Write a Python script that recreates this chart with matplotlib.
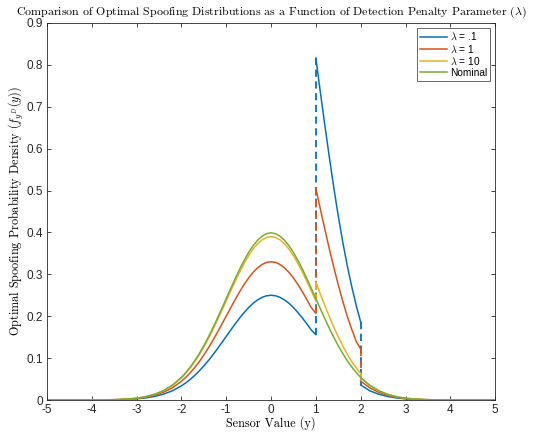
import numpy as np
import matplotlib
matplotlib.use('Agg')
import matplotlib.pyplot as plt

# sensor value grids (left of 1, between 1 and 2, right of 2)
x_left = [-5.0, -4.8, -4.6, -4.4, -4.2, -4.0, -3.8, -3.6, -3.4, -3.2, -3.0, -2.8, -2.6, -2.4, -2.2,
          -2.0, -1.9, -1.8, -1.7, -1.6, -1.5, -1.4, -1.3, -1.2, -1.1, -1.0, -0.9, -0.8, -0.7, -0.6, -0.5,
          -0.4, -0.3, -0.2, -0.1, 0.0, 0.1, 0.2, 0.3, 0.4, 0.5, 0.6, 0.7, 0.8, 0.9, 1.0]
x_mid = [1.0, 1.1, 1.2, 1.3, 1.4, 1.5, 1.6, 1.7, 1.8, 1.9, 2.0]
x_right = [2.0, 2.2, 2.4, 2.6, 2.8, 3.0, 3.2, 3.4, 3.6, 3.8, 4.0, 4.2, 4.4, 4.6, 4.8, 5.0]

# lambda = .1
l01_left = [0, 0, 0, 0, 0.0001, 0.0001, 0.0002, 0.0004, 0.0008, 0.0015, 0.0028, 0.005, 0.0085, 0.014, 0.0222,
            0.0338, 0.0411, 0.0495, 0.0589, 0.0695, 0.0812, 0.0938, 0.1074, 0.1217, 0.1366, 0.1517, 0.1668,
            0.1816, 0.1957, 0.2088, 0.2207, 0.2308, 0.2390, 0.2450, 0.2488, 0.250, 0.2488, 0.2450, 0.2390,
            0.2308, 0.2207, 0.2088, 0.1957, 0.1816, 0.1668, 0.156]
l01_mid = [0.816, 0.735, 0.656, 0.580, 0.507, 0.439, 0.377, 0.321, 0.271, 0.226, 0.186]
l01_right = [0.036, 0.0222, 0.014, 0.0085, 0.005, 0.0028, 0.0015, 0.0008, 0.0004, 0.0002, 0.0001, 0.0001, 0, 0, 0, 0]

# lambda = 1
l1_left = [0, 0, 0, 0, 0.0001, 0.0001, 0.0002, 0.0005, 0.001, 0.002, 0.0036, 0.0065, 0.0112, 0.0185, 0.0293,
           0.0447, 0.0543, 0.0654, 0.0778, 0.0917, 0.1071, 0.1238, 0.1418, 0.1607, 0.1803, 0.2002, 0.2201,
           0.2397, 0.2584, 0.2757, 0.2913, 0.3047, 0.3155, 0.3235, 0.3284, 0.330, 0.3284, 0.3235, 0.3155,
           0.3047, 0.2913, 0.2757, 0.2584, 0.2397, 0.2201, 0.207]
l1_mid = [0.505, 0.456, 0.408, 0.361, 0.317, 0.275, 0.236, 0.200, 0.169, 0.140, 0.122]
l1_right = [0.045, 0.0293, 0.0185, 0.0112, 0.0065, 0.0036, 0.002, 0.001, 0.0005, 0.0002, 0.0001, 0.0001, 0, 0, 0, 0]

# lambda = 10
l10_left = [0, 0, 0, 0, 0.0001, 0.0001, 0.0003, 0.0006, 0.0012, 0.0023, 0.0043, 0.0077, 0.0133, 0.0219, 0.0347,
            0.0528, 0.0641, 0.0772, 0.0919, 0.1084, 0.1266, 0.1464, 0.1676, 0.1899, 0.2130, 0.2366, 0.2602,
            0.2832, 0.3053, 0.3258, 0.3442, 0.3601, 0.3729, 0.3823, 0.3881, 0.390, 0.3881, 0.3823, 0.3729,
            0.3601, 0.3442, 0.3258, 0.3053, 0.2832, 0.2602, 0.2366]
l10_mid = [0.282, 0.253, 0.226, 0.199, 0.174, 0.151, 0.129, 0.110, 0.092, 0.077, 0.063]
l10_right = [0.0528, 0.0347, 0.0219, 0.0133, 0.0077, 0.0043, 0.0023, 0.0012, 0.0006, 0.0003, 0.0001, 0.0001, 0, 0, 0, 0]

# nominal density
nom_left = [0, 0, 0, 0, 0.0001, 0.0001, 0.0003, 0.0006, 0.0012, 0.0024, 0.0044, 0.0079, 0.0136, 0.0224, 0.0355,
            0.0540, 0.0656, 0.0790, 0.0940, 0.1109, 0.1295, 0.1497, 0.1714, 0.1942, 0.2179, 0.2420, 0.2661,
            0.2897, 0.3123, 0.3332, 0.3521, 0.3683, 0.3814, 0.3910, 0.3970, 0.3989, 0.3970, 0.3910, 0.3814,
            0.3683, 0.3521, 0.3332, 0.3123, 0.2897, 0.2661, 0.2420]
nom_mid = [0.2420, 0.2179, 0.1942, 0.1714, 0.1497, 0.1295, 0.1109, 0.0940, 0.0790, 0.0656, 0.0540]
nom_right = [0.0540, 0.0355, 0.0224, 0.0136, 0.0079, 0.0044, 0.0024, 0.0012, 0.0006, 0.0003, 0.0001, 0.0001, 0, 0, 0, 0]

labels = [r'$\lambda$ = .1', r'$\lambda$ = 1', r'$\lambda$ = 10', 'Nominal']
colors = ['#0072BD', '#D95319', '#EDB120', '#77AC30']

plt.rcParams['font.family'] = ['Liberation Sans', 'DejaVu Sans']
plt.rcParams['mathtext.fontset'] = 'cm'

fig = plt.figure(figsize=(5.33, 4.32), dpi=100)
ax = fig.add_axes([0.088, 0.074, 0.841, 0.873])

series = [(l01_left, l01_mid, l01_right), (l1_left, l1_mid, l1_right), (l10_left, l10_mid, l10_right)]
lw = 1.1
for (lft, mid, rgt), c, lab in zip(series, colors, labels):
    ax.plot(x_left, lft, color=c, lw=lw, label=lab)
    ax.plot(x_mid, mid, color=c, lw=lw)
    ax.plot(x_right, rgt, color=c, lw=lw)
    # jumps at the region edges
    ax.plot([x_left[-1], x_mid[0]], [lft[-1], mid[0]], color=c, lw=lw + 0.2, ls=(0, (4, 2.5)))
    ax.plot([x_mid[-1], x_right[0]], [mid[-1], rgt[0]], color=c, lw=lw + 0.2, ls=(0, (4, 2.5)))

ax.plot(x_left + x_mid[1:] + x_right[1:], nom_left + nom_mid[1:] + nom_right[1:],
        color=colors[3], lw=lw, label=labels[3])

ax.set_xlim(-5, 5)
ax.set_ylim(0, 0.9)
ax.set_xticks(np.arange(-5, 6, 1))
ax.set_yticks(np.arange(0, 0.91, 0.1))
ax.set_xticklabels([str(v) for v in range(-5, 6)])
ax.set_yticklabels(['0', '0.1', '0.2', '0.3', '0.4', '0.5', '0.6', '0.7', '0.8', '0.9'])
ax.tick_params(direction='in', top=True, right=True, labelsize=8.5, colors='#262626', length=3, width=0.6)
ax.tick_params(axis='x', pad=3)
ax.tick_params(axis='y', pad=3)
for s in ax.spines.values():
    s.set_color('#262626')
    s.set_linewidth(0.6)

ax.set_title(r'Comparison of Optimal Spoofing Distributions as a Function of Detection Penalty Parameter ($\lambda$)',
             family='cmr10', fontsize=8.6, pad=6)
ax.set_xlabel('Sensor Value (y)', family='cmr10', fontsize=8.8, labelpad=0)
ax.set_ylabel(r'Optimal Spoofing Probability Density ($f_{y^D}(y)$)', family='cmr10', fontsize=8.8, labelpad=1)

leg = ax.legend(loc='upper right', fontsize=7.3, frameon=True, fancybox=False, edgecolor='#262626',
                handlelength=2.6, handletextpad=0.3, borderpad=0.3, labelspacing=0.1, borderaxespad=0.5)
leg.get_frame().set_linewidth(0.6)

fig.savefig('out.png', dpi=100)
